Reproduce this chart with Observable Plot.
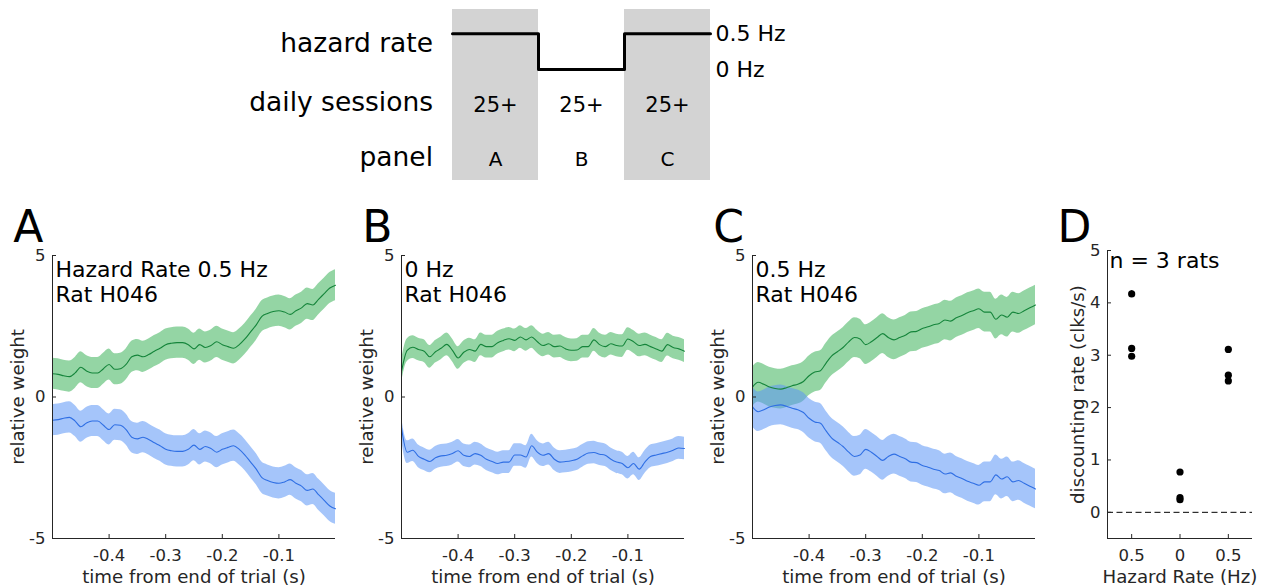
<!DOCTYPE html>
<html><head><meta charset="utf-8">
<script src="https://cdn.jsdelivr.net/npm/d3@7"></script>
<script src="https://cdn.jsdelivr.net/npm/@observablehq/plot@0.6"></script>
<style>
body{margin:0;background:#fff;}
#fig{position:relative;width:1263px;height:588px;overflow:hidden;background:#fff;}
</style></head><body><div id="fig"></div>
<script>
// ---------------- data ----------------
const times = [-0.50,-0.49,-0.48,-0.47,-0.46,-0.45,-0.44,-0.43,-0.42,-0.41,-0.40,-0.39,-0.38,-0.37,-0.36,-0.35,-0.34,-0.33,-0.32,-0.31,-0.30,-0.29,-0.28,-0.27,-0.26,-0.25,-0.24,-0.23,-0.22,-0.21,-0.20,-0.19,-0.18,-0.17,-0.16,-0.15,-0.14,-0.13,-0.12,-0.11,-0.10,-0.09,-0.08,-0.07,-0.06,-0.05,-0.04,-0.03,-0.02,-0.01,0.00];

const panelAGreen = [0.82,0.80,0.75,0.72,0.85,1.05,0.92,0.85,0.85,1.00,1.15,0.98,1.00,1.15,1.42,1.48,1.42,1.50,1.62,1.72,1.85,1.90,1.92,1.92,1.85,1.70,1.85,1.75,1.82,1.95,1.85,1.78,1.72,1.85,2.05,2.30,2.55,2.85,2.95,3.02,3.05,3.00,2.92,3.05,3.15,3.30,3.25,3.45,3.65,3.85,3.95];
const panelABlue = [-0.82,-0.80,-0.75,-0.72,-0.85,-1.05,-0.92,-0.85,-0.85,-1.00,-1.15,-0.98,-1.00,-1.15,-1.42,-1.48,-1.42,-1.50,-1.62,-1.72,-1.85,-1.90,-1.92,-1.92,-1.85,-1.70,-1.85,-1.75,-1.82,-1.95,-1.85,-1.78,-1.72,-1.85,-2.05,-2.30,-2.55,-2.85,-2.95,-3.02,-3.05,-3.00,-2.92,-3.05,-3.15,-3.30,-3.25,-3.45,-3.65,-3.85,-3.95];
const panelBGreen = [0.90,1.65,1.76,1.68,1.62,1.42,1.60,1.72,1.86,1.65,1.38,1.58,1.68,1.62,1.86,1.78,1.78,1.92,2.00,2.06,2.00,2.12,2.02,2.12,1.95,1.82,1.88,1.78,1.80,1.70,1.65,1.66,1.78,1.78,2.02,1.85,1.78,1.88,1.82,1.80,2.05,1.95,1.82,1.86,1.78,1.70,1.62,1.85,1.75,1.70,1.62];
const panelBBlue = [-1.10,-1.95,-1.88,-2.10,-2.20,-2.28,-2.15,-2.08,-2.06,-2.00,-1.90,-2.06,-2.10,-2.00,-2.06,-2.20,-2.28,-2.35,-2.30,-2.30,-2.05,-2.05,-2.12,-1.72,-1.95,-2.06,-2.00,-2.20,-2.30,-2.28,-2.25,-2.20,-2.08,-1.98,-1.96,-2.02,-2.06,-2.20,-2.30,-2.35,-2.50,-2.35,-2.55,-2.30,-2.10,-2.05,-2.00,-1.95,-1.88,-1.80,-1.82];
const panelCGreen = [0.35,0.52,0.45,0.35,0.30,0.28,0.33,0.40,0.45,0.55,0.75,0.88,0.93,1.20,1.45,1.60,1.75,1.95,2.10,2.05,1.85,1.95,2.10,2.24,2.10,2.02,2.10,2.18,2.30,2.32,2.42,2.48,2.55,2.60,2.72,2.68,2.80,2.88,2.98,3.05,3.12,3.00,3.00,2.75,2.90,2.82,3.00,2.95,3.05,3.15,3.25];
const panelCBlue = [-0.35,-0.52,-0.45,-0.35,-0.30,-0.28,-0.33,-0.40,-0.45,-0.55,-0.75,-0.88,-0.93,-1.20,-1.45,-1.60,-1.75,-1.95,-2.10,-2.05,-1.85,-1.95,-2.10,-2.24,-2.10,-2.02,-2.10,-2.18,-2.30,-2.32,-2.42,-2.48,-2.55,-2.60,-2.72,-2.68,-2.80,-2.88,-2.98,-3.05,-3.12,-3.00,-3.00,-2.75,-2.90,-2.82,-3.00,-2.95,-3.05,-3.15,-3.25];
// half-width of the shaded error band in each panel
const bandHalfWidth = [0.55, 0.40, 0.70];

const panelNotes = ["Hazard Rate 0.5 Hz\nRat H046", "0 Hz\nRat H046", "0.5 Hz\nRat H046"];
const panelLetters = ["A", "B", "C", "D"];

const timeDomain = [-0.5, 0];
const weightDomain = [-5, 5];
const timeTicks = [-0.4, -0.3, -0.2, -0.1];
const timeTickLabels = ["-0.4", "-0.3", "-0.2", "-0.1"];
const weightTicks = [-5, 0, 5];
const weightTickLabels = ["-5", "0", "5"];
const xLabel = "time from end of trial (s)";
const yLabel = "relative weight";

// panel D
const dGroup = [1, 1, 1, 2, 2, 2, 3, 3, 3];
const dRate = [4.17, 3.13, 2.98, 0.77, 0.28, 0.24, 3.11, 2.62, 2.51];
const dErr = [0.06, 0.05, 0.04, 0.03, 0.03, 0.03, 0.05, 0.04, 0.03];
const dGroupTicks = [1, 2, 3];
const dGroupLabels = ["0.5", "0", "0.5"];
const dRateTicks = [0, 1, 2, 3, 4, 5];
const dXDomain = [0.5, 3.5];
const dYDomain = [-0.5, 5];
const dNote = "n = 3 rats";
const dXLabel = "Hazard Rate (Hz)";
const dYLabel = "discounting rate (clks/s)";

// schematic
const rowLabels = ["hazard rate", "daily sessions", "panel"];
const stageHazard = [0.5, 0, 0.5];
const stageSessions = ["25+", "25+", "25+"];
const stagePanels = ["A", "B", "C"];
const stageShaded = [true, false, true];
const hazardTicks = [0, 0.5];
const hazardTickLabels = ["0 Hz", "0.5 Hz"];

// ---------------- style ----------------
const FONT = "DejaVu Sans";
const AXC = "#262626";
const GREEN_FILL = "#3cb35a", BLUE_FILL = "#5b95f5";
const GREEN_LINE = "#15853b", BLUE_LINE = "#2f6fe4";
const fig = document.getElementById("fig");

function place(el, left, top) {
  el.style.position = "absolute";
  el.style.left = left + "px";
  el.style.top = top + "px";
  fig.appendChild(el);
}
const baseStyle = {fontFamily: FONT, background: "transparent", overflow: "visible", color: AXC};

// ---------------- schematic ----------------
const stages = stageHazard.map((h, i) => ({start: i, end: i + 1, hazard: h, sessions: stageSessions[i], panel: stagePanels[i], shaded: stageShaded[i]}));
const steps = stages.map(s => ({x: s.start, y: s.hazard})).concat([{x: stages.length, y: stages[stages.length - 1].hazard}]);
const hazMap = new Map(hazardTicks.map((t, i) => [t, hazardTickLabels[i]]));

const schematic = Plot.plot({
  width: 800, height: 190, marginLeft: 452, marginRight: 90, marginTop: 9, marginBottom: 10,
  style: {...baseStyle, color: "black"},
  x: {domain: [0, stages.length], axis: null},
  y: {domain: [0, 0.5], range: [69, 33.3], axis: null},
  marks: [
    Plot.rect(stages.filter(s => s.shaded), {x1: "start", x2: "end", fill: "#d3d3d3"}),
    Plot.line(steps, {x: "x", y: "y", curve: "step-after", stroke: "black", strokeWidth: 3}),
    Plot.axisY(hazardTicks, {anchor: "right", tickSize: 0, tickPadding: 5, tickFormat: d => hazMap.get(d), fontSize: 22, label: null, fill: "black"}),
    Plot.text([rowLabels[0]], {text: d => d, frameAnchor: "top-left", textAnchor: "end", dx: -19.5, dy: 34.2, lineAnchor: "middle", fontSize: 26.5, fill: "black"}),
    Plot.text([rowLabels[1]], {text: d => d, frameAnchor: "top-left", textAnchor: "end", dx: -19.5, dy: 93.5, lineAnchor: "middle", fontSize: 26.5, fill: "black"}),
    Plot.text([rowLabels[2]], {text: d => d, frameAnchor: "top-left", textAnchor: "end", dx: -19.5, dy: 148.2, lineAnchor: "middle", fontSize: 26.5, fill: "black"}),
    Plot.text(stages, {x: d => (d.start + d.end) / 2, text: "sessions", frameAnchor: "top", dy: 95.3, lineAnchor: "middle", fontSize: 21, fill: "black"}),
    Plot.text(stages, {x: d => (d.start + d.end) / 2, text: "panel", frameAnchor: "top", dy: 150.3, lineAnchor: "middle", fontSize: 20, fill: "black"})
  ]
});
place(schematic, 0, 0);

// ---------------- panels A-C ----------------
const tMap = new Map(timeTicks.map((t, i) => [t, timeTickLabels[i]]));
const wMap = new Map(weightTicks.map((t, i) => [t, weightTickLabels[i]]));

function series(values, half) {
  return times.map((t, i) => ({t, v: values[i], lo: values[i] - half, hi: values[i] + half}));
}

function tracePanel(green, blue, half, note, letter, left) {
  const g = series(green, half), b = series(blue, half);
  const svg = Plot.plot({
    width: 350, height: 388, marginLeft: 52, marginRight: 15, marginTop: 55, marginBottom: 50,
    style: baseStyle,
    x: {domain: timeDomain, axis: null},
    y: {domain: weightDomain, axis: null},
    marks: [
      Plot.areaY(g, {x: "t", y1: "lo", y2: "hi", fill: GREEN_FILL, fillOpacity: 0.55, curve: "monotone-x"}),
      Plot.areaY(b, {x: "t", y1: "lo", y2: "hi", fill: BLUE_FILL, fillOpacity: 0.55, curve: "monotone-x"}),
      Plot.line(g, {x: "t", y: "v", stroke: GREEN_LINE, strokeWidth: 1.1, curve: "monotone-x"}),
      Plot.line(b, {x: "t", y: "v", stroke: BLUE_LINE, strokeWidth: 1.1, curve: "monotone-x"}),
      Plot.ruleX([timeDomain[0]], {stroke: AXC, strokeWidth: 1}),
      Plot.ruleY([weightDomain[0]], {stroke: AXC, strokeWidth: 1}),
      Plot.axisX(timeTicks, {anchor: "bottom", tickSize: -4, tickPadding: 15, tickFormat: d => tMap.get(d), fontSize: 16.5, label: null, fill: AXC}),
      Plot.axisY(weightTicks, {anchor: "left", tickSize: -4, tickPadding: 11, tickFormat: d => wMap.get(d), fontSize: 16.5, label: null, fill: AXC}),
      Plot.text([xLabel], {text: d => d, frameAnchor: "bottom", dy: 38.5, lineAnchor: "middle", textAnchor: "middle", fontSize: 18.2, fill: AXC}),
      Plot.text([yLabel], {text: d => d, frameAnchor: "left", dx: -34, rotate: -90, lineAnchor: "middle", textAnchor: "middle", fontSize: 18.2, fill: AXC}),
      Plot.text([note], {text: d => d, frameAnchor: "top-left", dx: 3, dy: 3.5, lineAnchor: "top", textAnchor: "start", fontSize: 22, lineHeight: 1.14, fill: "black"}),
      Plot.text([letter], {text: d => d, frameAnchor: "top-left", dx: -39.3, dy: -28, lineAnchor: "middle", textAnchor: "start", fontSize: 44, fill: "black"})
    ]
  });
  place(svg, left, 200);
}
tracePanel(panelAGreen, panelABlue, bandHalfWidth[0], panelNotes[0], panelLetters[0], 0);
tracePanel(panelBGreen, panelBBlue, bandHalfWidth[1], panelNotes[1], panelLetters[1], 349);
tracePanel(panelCGreen, panelCBlue, bandHalfWidth[2], panelNotes[2], panelLetters[2], 700);

// ---------------- panel D ----------------
const dRows = dGroup.map((g, i) => ({g, r: dRate[i], lo: dRate[i] - dErr[i], hi: dRate[i] + dErr[i]}));
const gMap = new Map(dGroupTicks.map((t, i) => [t, dGroupLabels[i]]));
const panelD = Plot.plot({
  width: 223, height: 388, marginLeft: 67, marginRight: 11, marginTop: 50, marginBottom: 50,
  style: baseStyle,
  x: {domain: dXDomain, axis: null},
  y: {domain: dYDomain, axis: null},
  marks: [
    Plot.ruleY([0], {stroke: "black", strokeWidth: 1, strokeDasharray: "6,3.5"}),
    Plot.ruleX(dRows, {x: "g", y1: "lo", y2: "hi", stroke: "black", strokeWidth: 1.5}),
    Plot.dot(dRows, {x: "g", y: "r", r: 3.6, fill: "black", stroke: null}),
    Plot.ruleX([dXDomain[0]], {stroke: AXC, strokeWidth: 1}),
    Plot.ruleY([dYDomain[0]], {stroke: AXC, strokeWidth: 1}),
    Plot.axisX(dGroupTicks, {anchor: "bottom", tickSize: -4, tickPadding: 15, tickFormat: d => gMap.get(d), fontSize: 16.5, label: null, fill: AXC}),
    Plot.axisY(dRateTicks, {anchor: "left", tickSize: -4, tickPadding: 11, tickFormat: d => String(d), fontSize: 16.5, label: null, fill: AXC}),
    Plot.text([dXLabel], {text: d => d, frameAnchor: "bottom", dy: 38.5, lineAnchor: "middle", textAnchor: "middle", fontSize: 18.2, fill: AXC}),
    Plot.text([dYLabel], {text: d => d, frameAnchor: "left", dx: -29, rotate: -90, lineAnchor: "middle", textAnchor: "middle", fontSize: 18.2, fill: AXC}),
    Plot.text([dNote], {text: d => d, frameAnchor: "top-left", dx: 2, dy: 1.5, lineAnchor: "top", textAnchor: "start", fontSize: 22, fill: "black"}),
    Plot.text([panelLetters[3]], {text: d => d, frameAnchor: "top-left", dx: -50, dy: -23, lineAnchor: "middle", textAnchor: "start", fontSize: 44, fill: "black"})
  ]
});
place(panelD, 1040, 200);
</script></body></html>
